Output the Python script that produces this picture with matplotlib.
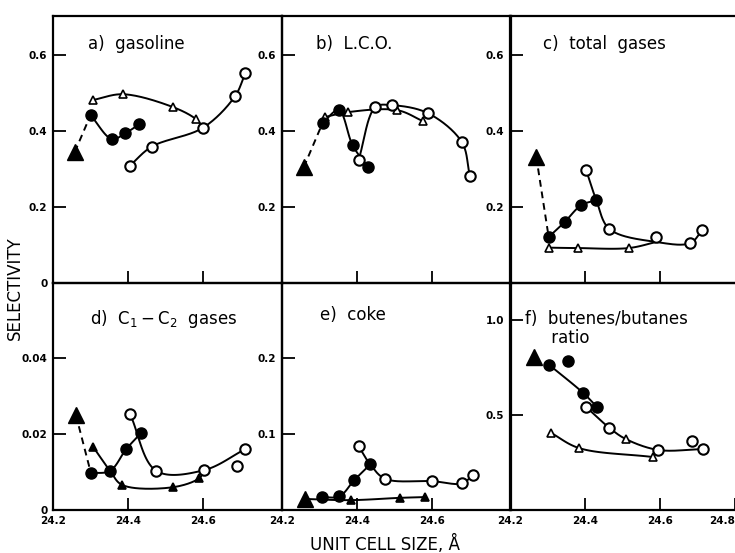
import numpy as np
import matplotlib
matplotlib.use('Agg')
import matplotlib.pyplot as plt

plt.rcParams['font.family'] = ['DejaVu Sans']

XMIN, XMAX = 24.2, 24.81

# ---------------- data ----------------
# a) gasoline
a_big_x, a_big_y = [24.258], [0.345]
a_fc_x = [24.300, 24.357, 24.392, 24.430]
a_fc_y = [0.442, 0.379, 0.394, 0.418]
a_oc_x = [24.405, 24.463, 24.600, 24.685, 24.712]
a_oc_y = [0.309, 0.359, 0.409, 0.492, 0.552]
a_ot_x = [24.307, 24.387, 24.520, 24.580]
a_ot_y = [0.482, 0.497, 0.463, 0.432]

# b) L.C.O.
b_big_x, b_big_y = [24.258], [0.305]
b_fc_x = [24.308, 24.351, 24.388, 24.428]
b_fc_y = [0.421, 0.455, 0.363, 0.305]
b_oc_x = [24.404, 24.449, 24.494, 24.589, 24.679, 24.700]
b_oc_y = [0.324, 0.463, 0.468, 0.447, 0.371, 0.282]
b_ot_x = [24.314, 24.377, 24.507, 24.576]
b_ot_y = [0.437, 0.450, 0.455, 0.426]

# c) total gases
c_big_x, c_big_y = [24.270], [0.332]
c_fc_x = [24.303, 24.346, 24.390, 24.430]
c_fc_y = [0.121, 0.161, 0.205, 0.218]
c_oc_x = [24.403, 24.465, 24.590, 24.680, 24.712]
c_oc_y = [0.297, 0.142, 0.121, 0.105, 0.139]
c_ot_x = [24.305, 24.380, 24.516]
c_ot_y = [0.093, 0.092, 0.092]
c_merge_x, c_merge_y = [24.590], [0.108]   # where the curves join

# d) C1-C2 gases
d_big_x, d_big_y = [24.261], [0.0250]
d_fc_x = [24.301, 24.352, 24.395, 24.435]
d_fc_y = [0.0097, 0.0103, 0.0160, 0.0203]
d_oc_x = [24.405, 24.475, 24.603, 24.690, 24.712]
d_oc_y = [0.0253, 0.0103, 0.0105, 0.0116, 0.0160]
d_ot_x = [24.307, 24.384, 24.520, 24.590]
d_ot_y = [0.0166, 0.0066, 0.0060, 0.0084]

# e) coke
e_big_x, e_big_y = [24.261], [0.0145]
e_fc_x = [24.306, 24.353, 24.392, 24.435]
e_fc_y = [0.017, 0.018, 0.039, 0.060]
e_oc_x = [24.404, 24.475, 24.600, 24.680, 24.708]
e_oc_y = [0.084, 0.041, 0.038, 0.035, 0.046]
e_ot_x = [24.383, 24.515, 24.580]
e_ot_y = [0.013, 0.016, 0.017]

# f) butenes/butanes ratio
f_big_x, f_big_y = [24.265], [0.805]
f_fc_x = [24.305, 24.354, 24.395, 24.432]
f_fc_y = [0.763, 0.784, 0.616, 0.542]
f_oc_x = [24.403, 24.465, 24.595, 24.684, 24.714]
f_oc_y = [0.542, 0.432, 0.316, 0.363, 0.321]
f_ot_x = [24.310, 24.384, 24.508, 24.580]
f_ot_y = [0.405, 0.326, 0.374, 0.279]

# ---------------- helpers ----------------
W, H = 735, 553
fig = plt.figure(figsize=(W / 100, H / 100), dpi=100)

col_left = [53, 282, 510]
col_w = 229
rows = [(16, 283), (283, 510)]


def make_ax(col, row):
    top, bot = rows[row]
    ax = fig.add_axes([col_left[col] / W, (H - bot) / H, col_w / W, (bot - top) / H])
    ax.set_xlim(XMIN, XMAX)
    ax.set_facecolor('none')
    for s in ax.spines.values():
        s.set_linewidth(1.6)
        s.set_color('black')
    ax.tick_params(direction='in', length=9, width=1.3, colors='black',
                   labelsize=7.5, pad=4)
    ax._pxh = bot - top
    return ax


def bold_ticks(ax):
    for lbl in ax.get_xticklabels() + ax.get_yticklabels():
        lbl.set_fontweight('bold')


def smooth(ax, xs, ys, n=40):
    xs = np.asarray(xs, float)
    ys = np.asarray(ys, float)
    y0, y1 = ax.get_ylim()
    sx = col_w / (XMAX - XMIN)
    sy = ax._pxh / (y1 - y0)
    P = np.column_stack([xs * sx, ys * sy])
    if len(P) == 2:
        t = np.linspace(0, 1, n)[:, None]
        C = P[0] + (P[1] - P[0]) * t
        return C[:, 0] / sx, C[:, 1] / sy
    Pp = np.vstack([2 * P[0] - P[1], P, 2 * P[-1] - P[-2]])
    out = []
    for i in range(1, len(Pp) - 2):
        p0, p1, p2, p3 = Pp[i - 1], Pp[i], Pp[i + 1], Pp[i + 2]
        def tj(ti, a, b):
            return ti + max(np.linalg.norm(b - a), 1e-6) ** 0.5
        t0 = 0.0
        t1 = tj(t0, p0, p1)
        t2 = tj(t1, p1, p2)
        t3 = tj(t2, p2, p3)
        t = np.linspace(t1, t2, n)[:, None]
        A1 = (t1 - t) / (t1 - t0) * p0 + (t - t0) / (t1 - t0) * p1
        A2 = (t2 - t) / (t2 - t1) * p1 + (t - t1) / (t2 - t1) * p2
        A3 = (t3 - t) / (t3 - t2) * p2 + (t - t2) / (t3 - t2) * p3
        B1 = (t2 - t) / (t2 - t0) * A1 + (t - t0) / (t2 - t0) * A2
        B2 = (t3 - t) / (t3 - t1) * A2 + (t - t1) / (t3 - t1) * A3
        C = (t2 - t) / (t2 - t1) * B1 + (t - t1) / (t2 - t1) * B2
        out.append(C if i == 1 else C[1:])
    C = np.vstack(out)
    return C[:, 0] / sx, C[:, 1] / sy


LW = 1.4


def curve(ax, xs, ys):
    cx, cy = smooth(ax, xs, ys)
    ax.plot(cx, cy, color='black', lw=LW, zorder=2, solid_capstyle='round')


def dashed(ax, x0, y0, x1, y1):
    ax.plot([x0, x1], [y0, y1], color='black', lw=LW, ls=(0, (3.5, 2.5)), zorder=2)


def markers(ax, big, fc, oc, ot, tri_filled=False):
    ax.plot(big[0], big[1], ls='none', marker='^', ms=11, mfc='black', mec='black', zorder=4)
    ax.plot(ot[0], ot[1], ls='none', marker='^', ms=5.5,
            mfc='black' if tri_filled else 'white', mec='black', mew=1.2, zorder=3)
    ax.plot(fc[0], fc[1], ls='none', marker='o', ms=8, mfc='black', mec='black', zorder=5)
    ax.plot(oc[0], oc[1], ls='none', marker='o', ms=7.5, mfc='white', mec='black', mew=1.5, zorder=5)


def title(ax, txt, x=0.16, y=0.895):
    ax.text(x, y, txt, transform=ax.transAxes, fontsize=12, ha='left', va='center')


top_xt = [24.4, 24.6]

# ---- a ----
ax = make_ax(0, 0)
ax.set_ylim(0, 0.703)
ax.set_yticks([0, 0.2, 0.4, 0.6], ['0', '0.2', '0.4', '0.6'])
ax.set_xticks(top_xt, ['', ''])
bold_ticks(ax)
curve(ax, a_fc_x, a_fc_y)
curve(ax, a_oc_x, a_oc_y)
curve(ax, a_ot_x + [a_oc_x[2]], a_ot_y + [a_oc_y[2]])
dashed(ax, a_big_x[0], a_big_y[0], a_fc_x[0], a_fc_y[0])
markers(ax, (a_big_x, a_big_y), (a_fc_x, a_fc_y), (a_oc_x, a_oc_y), (a_ot_x, a_ot_y))
title(ax, 'a)  gasoline', x=0.155)

# ---- b ----
ax = make_ax(1, 0)
ax.set_ylim(0, 0.703)
ax.set_yticks([0.2, 0.4, 0.6], ['0.2', '0.4', '0.6'])
ax.set_xticks(top_xt, ['', ''])
bold_ticks(ax)
curve(ax, b_fc_x, b_fc_y)
curve(ax, b_oc_x, b_oc_y)
curve(ax, b_ot_x, b_ot_y)
dashed(ax, b_big_x[0], b_big_y[0], b_fc_x[0], b_fc_y[0])
markers(ax, (b_big_x, b_big_y), (b_fc_x, b_fc_y), (b_oc_x, b_oc_y), (b_ot_x, b_ot_y))
title(ax, 'b)  L.C.O.', x=0.15)

# ---- c ----
ax = make_ax(2, 0)
ax.set_ylim(0, 0.703)
ax.set_yticks([0.2, 0.4, 0.6], ['0.2', '0.4', '0.6'])
ax.set_xticks(top_xt, ['', ''])
bold_ticks(ax)
curve(ax, c_fc_x, c_fc_y)
curve(ax, [c_oc_x[0], c_fc_x[-1], c_oc_x[1]] + c_merge_x + c_oc_x[3:],
      [c_oc_y[0], c_fc_y[-1], c_oc_y[1]] + c_merge_y + c_oc_y[3:])
curve(ax, c_ot_x + c_merge_x, c_ot_y + c_merge_y)
dashed(ax, c_big_x[0], c_big_y[0], c_fc_x[0], c_fc_y[0])
markers(ax, (c_big_x, c_big_y), (c_fc_x, c_fc_y), (c_oc_x, c_oc_y), (c_ot_x, c_ot_y))
title(ax, 'c)  total  gases', x=0.145)

# ---- d ----
ax = make_ax(0, 1)
ax.set_ylim(0, 0.0597)
ax.set_yticks([0, 0.02, 0.04], ['0', '0.02', '0.04'])
ax.set_xticks([24.2, 24.4, 24.6], ['24.2', '24.4', '24.6'])
bold_ticks(ax)
curve(ax, d_fc_x, d_fc_y)
curve(ax, [d_oc_x[i] for i in (0, 1, 2, 4)], [d_oc_y[i] for i in (0, 1, 2, 4)])
curve(ax, [d_ot_x[0], d_fc_x[1]] + d_ot_x[1:] + [d_oc_x[2]],
      [d_ot_y[0], d_fc_y[1]] + d_ot_y[1:] + [d_oc_y[2]])
dashed(ax, d_big_x[0], d_big_y[0], d_fc_x[0], d_fc_y[0])
markers(ax, (d_big_x, d_big_y), (d_fc_x, d_fc_y), (d_oc_x, d_oc_y), (d_ot_x, d_ot_y),
        tri_filled=True)
title(ax, r'd)  $\mathsf{C_1 - C_2}$  gases', x=0.16, y=0.84)

# ---- e ----
ax = make_ax(1, 1)
ax.set_ylim(0, 0.2987)
ax.set_yticks([0.1, 0.2], ['0.1', '0.2'])
ax.set_xticks([24.2, 24.4, 24.6], ['24.2', '24.4', '24.6'])
bold_ticks(ax)
curve(ax, e_fc_x, e_fc_y)
curve(ax, [e_oc_x[0], e_fc_x[-1]] + e_oc_x[1:], [e_oc_y[0], e_fc_y[-1]] + e_oc_y[1:])
curve(ax, e_big_x + e_ot_x, e_big_y + e_ot_y)
markers(ax, (e_big_x, e_big_y), (e_fc_x, e_fc_y), (e_oc_x, e_oc_y), (e_ot_x, e_ot_y),
        tri_filled=True)
title(ax, 'e)  coke', x=0.165, y=0.86)

# ---- f ----
ax = make_ax(2, 1)
ax.set_ylim(0, 1.195)
ax.set_yticks([0.5, 1.0], ['0.5', '1.0'])
ax.set_xticks([24.2, 24.4, 24.6, 24.8], ['24.2', '24.4', '24.6', '24.8'])
bold_ticks(ax)
ax.get_xticklabels()[-1].set_horizontalalignment('right')
curve(ax, [f_fc_x[i] for i in (0, 2, 3)], [f_fc_y[i] for i in (0, 2, 3)])
curve(ax, f_oc_x[:2] + [f_ot_x[2]] + [f_oc_x[2], f_oc_x[4]],
      f_oc_y[:2] + [f_ot_y[2]] + [f_oc_y[2], f_oc_y[4]])
curve(ax, [f_ot_x[i] for i in (0, 1, 3)], [f_ot_y[i] for i in (0, 1, 3)])
markers(ax, (f_big_x, f_big_y), (f_fc_x, f_fc_y), (f_oc_x, f_oc_y), (f_ot_x, f_ot_y))
ax.text(0.065, 0.80, 'f)  butenes/butanes\n     ratio', transform=ax.transAxes,
        fontsize=12, ha='left', va='center', linespacing=1.05)

fig.text(15 / W, 1 - 288 / H, 'SELECTIVITY', rotation=90, ha='center', va='center',
         fontsize=12)
fig.text(385 / W, 1 - 544 / H, 'UNIT CELL SIZE, Å', ha='center', va='center',
         fontsize=12)

fig.savefig('out.png', dpi=100)
